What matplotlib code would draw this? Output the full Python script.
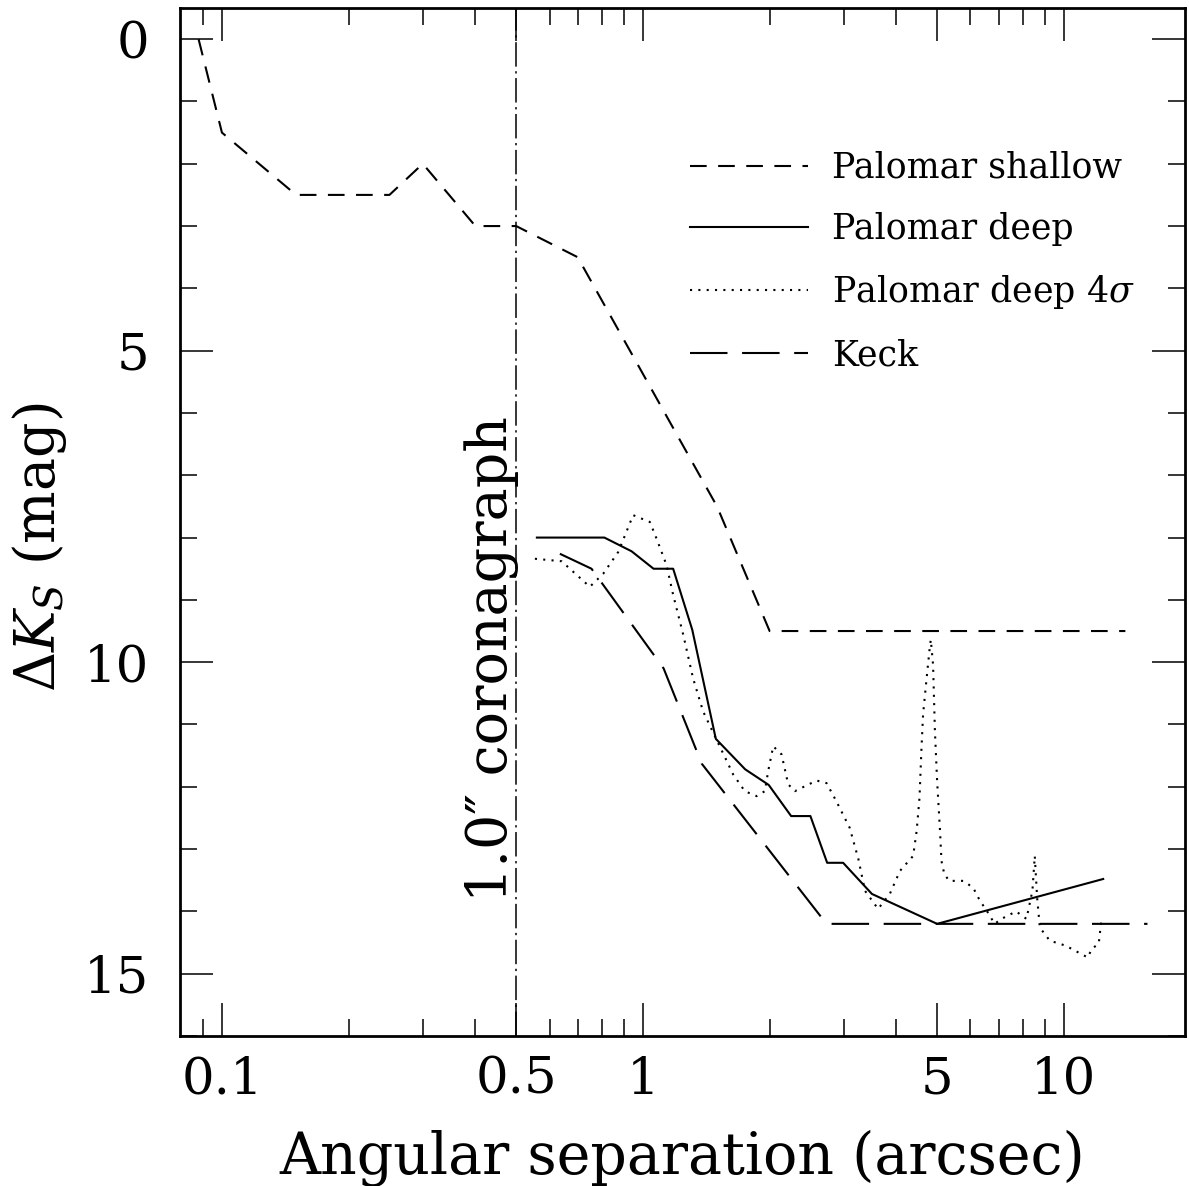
import matplotlib
matplotlib.use("Agg")
import matplotlib.pyplot as plt
from matplotlib.ticker import FixedLocator, NullFormatter, FixedFormatter

plt.rcParams['font.family'] = ['DejaVu Serif', 'DejaVu Sans']
plt.rcParams['mathtext.fontset'] = 'dejavuserif'

# ---- data ----
shallow_x = [0.088, 0.1, 0.15, 0.25, 0.3, 0.4, 0.5, 0.7, 1.5, 2.0, 14.0]
shallow_y = [0.0, 1.5, 2.5, 2.5, 2.0, 3.0, 3.0, 3.5, 7.5, 9.5, 9.5]

deep_x = [0.56, 0.81, 0.94, 1.06, 1.18, 1.31, 1.49, 1.75, 1.99, 2.25, 2.5,
          2.74, 2.99, 3.5, 5.0, 12.4]
deep_y = [8.0, 8.0, 8.22, 8.5, 8.5, 9.48, 11.23, 11.72, 11.97, 12.47, 12.47,
          13.22, 13.22, 13.72, 14.2, 13.48]

deep4_x = [0.554, 0.641, 0.748, 0.805, 0.874, 0.948, 1.039, 1.078, 1.138, 1.18,
           1.247, 1.316, 1.39, 1.483, 1.638, 1.746, 1.862, 1.949, 1.984, 2.04,
           2.135, 2.214, 2.296, 2.586, 2.73, 2.88, 3.1, 3.25, 3.37, 3.62,
           3.86, 4.08, 4.385, 4.47, 4.54, 4.59, 4.63, 4.72, 4.8, 4.83,
           4.89, 4.94, 5.0, 5.08, 5.12, 5.2, 5.34, 5.77, 6.09, 6.32,
           6.56, 6.85, 7.11, 7.7, 8.15, 8.42, 8.53, 8.64, 8.77, 9.26,
           10.1, 11.4, 11.65, 12.1, 12.3]
deep4_y = [8.34, 8.38, 8.79, 8.58, 8.23, 7.64, 7.75, 8.02, 8.44, 8.92,
           9.56, 10.26, 10.79, 11.19, 11.8, 12.07, 12.15, 12.07, 11.75, 11.35,
           11.48, 11.96, 12.07, 11.9, 11.94, 12.23, 12.66, 13.16, 13.67, 13.96,
           13.72, 13.35, 13.11, 12.71, 12.18, 11.38, 10.84, 10.26, 9.78, 9.64,
           10.04, 11.11, 11.91, 12.71, 13.19, 13.4, 13.51, 13.51, 13.62, 13.83,
           13.99, 14.2, 14.12, 14.0, 14.12, 13.67, 13.11, 13.78, 14.26, 14.47,
           14.55, 14.74, 14.6, 14.52, 14.1]

keck_x = [0.635, 0.755, 1.12, 1.38, 2.73, 15.8]
keck_y = [8.26, 8.5, 10.1, 11.63, 14.2, 14.2]

coronagraph_x = 0.5

xmajor = [0.1, 0.5, 1, 5, 10]
xmajor_labels = ['0.1', '0.5', '1', '5', '10']
xminor = [0.09, 0.2, 0.3, 0.4, 0.6, 0.7, 0.8, 0.9, 2, 3, 4, 6, 7, 8, 9]
ymajor = [0, 5, 10, 15]

# ---- figure ----
W, H = 1189, 1186
fig = plt.figure(figsize=(W / 100, H / 100), dpi=100)
ax = fig.add_axes([180 / W, 1 - 1036 / H, (1185 - 180) / W, (1036 - 8) / H])

lw = 1.5
ax.plot(shallow_x, shallow_y, color='black', lw=lw, linestyle=(0, (8, 5.5)),
        label='Palomar shallow')
ax.plot(deep_x, deep_y, color='black', lw=lw, linestyle='-', label='Palomar deep')
ax.plot(deep4_x, deep4_y, color='black', lw=lw, linestyle=(0, (1, 3)),
        label='Palomar deep 4$\\sigma$')
ax.plot(keck_x, keck_y, color='black', lw=lw, linestyle=(0, (18, 7)),
        label='Keck')
ax.axvline(coronagraph_x, color='black', lw=1.1, linestyle=(0, (16, 3, 1.5, 3)))

ax.set_xscale('log')
ax.set_xlim(0.0795, 19.4)
ax.set_ylim(16.0, -0.5)

ax.xaxis.set_major_locator(FixedLocator(xmajor))
ax.xaxis.set_major_formatter(FixedFormatter(xmajor_labels))
ax.xaxis.set_minor_locator(FixedLocator(xminor))
ax.xaxis.set_minor_formatter(NullFormatter())
ax.yaxis.set_major_locator(FixedLocator(ymajor))
ax.yaxis.set_minor_locator(FixedLocator(list(range(0, 17))))

ax.tick_params(which='both', direction='in', top=True, right=True, width=1.1,
               colors='black')
ax.tick_params(which='major', length=24, labelsize=37)
ax.tick_params(which='minor', length=12)
ax.tick_params(axis='x', which='major', pad=14)
ax.tick_params(axis='y', which='major', pad=22)
for s in ax.spines.values():
    s.set_linewidth(2.0)

ax.set_xlabel('Angular separation (arcsec)', fontsize=41, labelpad=18)
ax.set_ylabel('$\\Delta K_S$ (mag)', fontsize=40, labelpad=14)
ax.yaxis.set_label_coords(-0.11, 0.475)

ax.text(0.437, 9.95, '1.0\u2033 coronagraph', rotation=90, fontsize=40,
        ha='center', va='center')

leg = ax.legend(loc='upper left', bbox_to_anchor=(690 / W, 1 - 151 / H),
                bbox_transform=fig.transFigure, frameon=False, fontsize=25,
                handlelength=3.4, handletextpad=0.7, labelspacing=0.78,
                borderpad=0, borderaxespad=0)

fig.savefig('out.png', dpi=100)
